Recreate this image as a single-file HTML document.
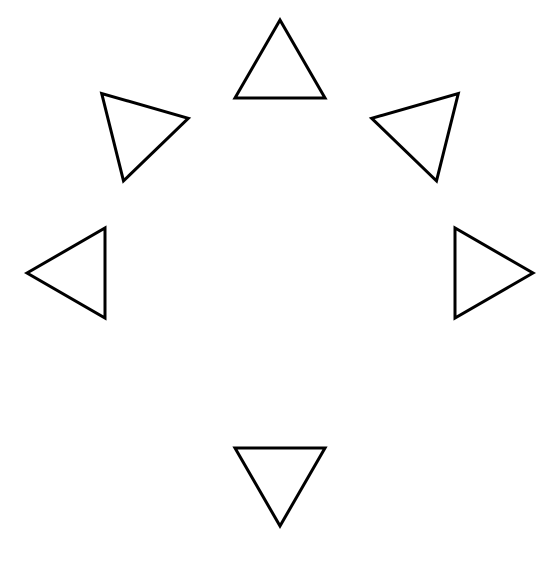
<!DOCTYPE html>
<html><head><meta charset="utf-8"><style>html,body{margin:0;padding:0;background:#fff}</style></head>
<body>
<svg id="chart" width="560" height="560" viewBox="0 0 560 560" xmlns="http://www.w3.org/2000/svg"></svg>
<script>
// marker positions on a circle (polar angle, degrees, counter-clockwise from +x)
const positionAngles = [90, 45, 0, 180, 135, 270];
// radius in data units
const radii = [1, 1, 1, 1, 1, 1];
// marker orientation: direction of one vertex (screen degrees)
const markerRotations = [-90, 194, 0, 180, 346, 90];
const markerNames = ['marker-top','marker-upper-right','marker-right','marker-left','marker-upper-left','marker-bottom'];

const cx = 280, cy = 273, R = 201, mr = 52;
function xScale(a, r){ return cx + r*R*Math.cos(a*Math.PI/180); }
function yScale(a, r){ return cy - r*R*Math.sin(a*Math.PI/180); }
const svg = document.getElementById('chart');
for (let i = 0; i < positionAngles.length; i++) {
  const x = xScale(positionAngles[i], radii[i]);
  const y = yScale(positionAngles[i], radii[i]);
  const pts = [];
  for (let k = 0; k < 3; k++) {
    const t = (markerRotations[i] + 120*k) * Math.PI/180;
    pts.push((x + mr*Math.cos(t)).toFixed(1) + ',' + (y + mr*Math.sin(t)).toFixed(1));
  }
  const p = document.createElementNS('http://www.w3.org/2000/svg','polygon');
  p.setAttribute('points', pts.join(' '));
  p.setAttribute('fill', 'none');
  p.setAttribute('stroke', '#000');
  p.setAttribute('stroke-width', '3');
  
  
  svg.appendChild(p);
}
</script>
</body></html>
